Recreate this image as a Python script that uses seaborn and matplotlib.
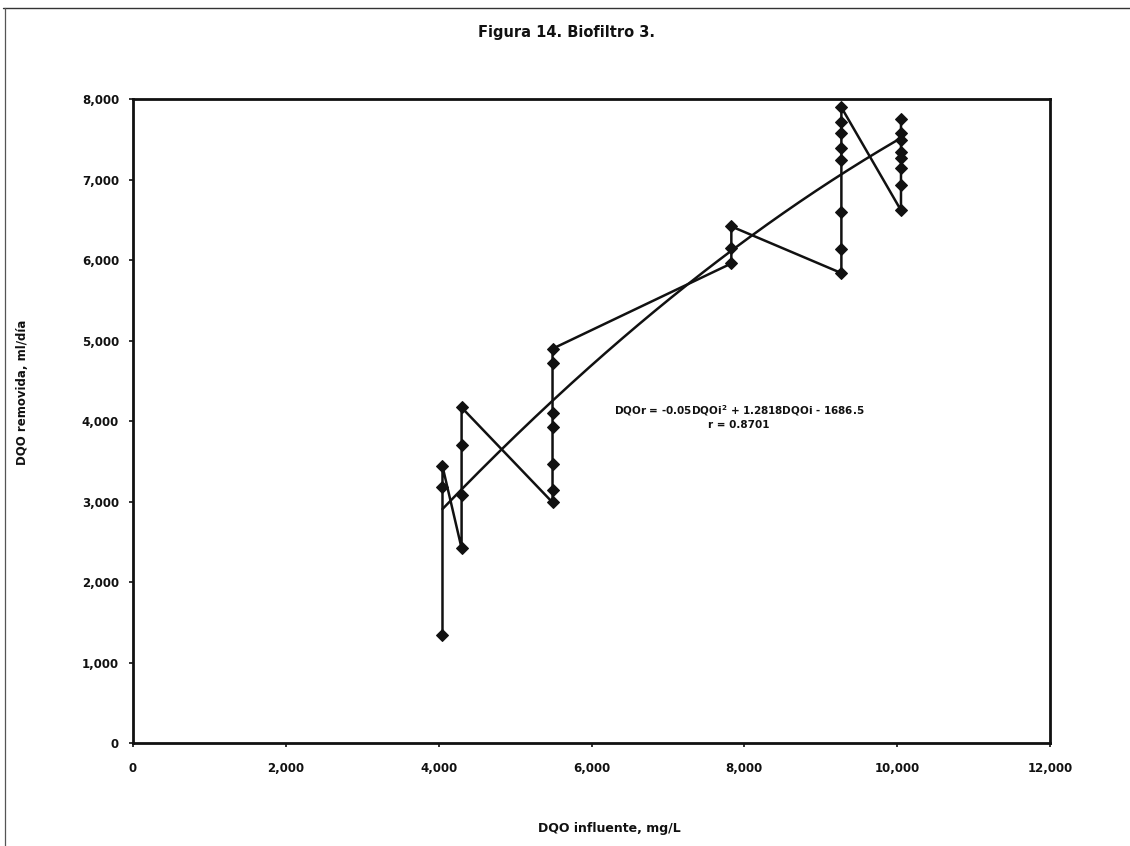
import matplotlib
matplotlib.use("Agg")
import matplotlib.pyplot as plt
from matplotlib.lines import Line2D
from matplotlib.ticker import FuncFormatter, MultipleLocator
import numpy as np
import pandas as pd
import seaborn as sns

# Influent COD (mg/L) for each run, in sampling order
dqo_influente = [
    4050, 4050, 4050,
    4300, 4300, 4300, 4300,
    5490, 5490, 5490, 5490, 5490, 5490, 5490,
    7830, 7830, 7830,
    9270, 9270, 9270, 9270, 9270, 9270, 9270, 9270,
    10050, 10050, 10050, 10050, 10050, 10050, 10050, 10050,
]
# COD removed for each run
dqo_removida = [
    1340, 3180, 3440,
    2420, 3080, 3700, 4170,
    2990, 3150, 3470, 3930, 4100, 4720, 4900,
    5960, 6150, 6420,
    5840, 6140, 6600, 7240, 7390, 7580, 7720, 7900,
    6620, 6940, 7140, 7270, 7350, 7500, 7580, 7750,
]

# Polynomial trend coefficients (x^2, x, constant)
coef_tendencia = [-3.64e-5, 1.2818, -1686.5]

titulo = "Figura 14. Biofiltro 3."
etiqueta_x = "DQO influente, mg/L"
etiqueta_y = "DQO removida, ml/día"
ecuacion = "DQOr = -0.05DQOi$^2$ + 1.2818DQOi - 1686.5\nr = 0.8701"

df = pd.DataFrame({"x": dqo_influente, "y": dqo_removida})

xt = np.linspace(min(dqo_influente), max(dqo_influente), 200)
df_tend = pd.DataFrame({"x": xt, "y": np.polyval(coef_tendencia, xt)})

sns.set_theme(style="ticks")
plt.rcParams["font.family"] = ["DejaVu Sans"]
plt.rcParams["font.weight"] = "bold"

fig = plt.figure(figsize=(11.30, 8.46), dpi=100)
ax = fig.add_axes([133 / 1130, 1 - 743 / 846, (1050 - 133) / 1130, (743 - 99.3) / 846])

# Measured series, connected in sampling order
sns.lineplot(data=df, x="x", y="y", sort=False, estimator=None, ax=ax,
             color="#111111", linewidth=1.8, marker="D", markersize=6.5,
             markeredgecolor="#111111", markerfacecolor="#111111")

# Second-order trend line
sns.lineplot(data=df_tend, x="x", y="y", ax=ax, color="#111111", linewidth=1.8)

ax.set_xlim(0, 12000)
ax.set_ylim(0, 8000)
ax.xaxis.set_major_locator(MultipleLocator(2000))
ax.yaxis.set_major_locator(MultipleLocator(1000))
fmt = FuncFormatter(lambda v, p: f"{int(v):,}")
ax.xaxis.set_major_formatter(fmt)
ax.yaxis.set_major_formatter(fmt)
ax.tick_params(axis="both", direction="out", length=3, width=1.2, color="#111111",
               labelsize=8.5, labelcolor="#111111")
ax.tick_params(axis="y", pad=7)
ax.tick_params(axis="x", pad=11)
for lab in ax.get_xticklabels() + ax.get_yticklabels():
    lab.set_fontweight("bold")

for side in ["top", "right", "bottom", "left"]:
    ax.spines[side].set_visible(True)
    ax.spines[side].set_color("#111111")
    ax.spines[side].set_linewidth(2.0)

ax.set_xlabel("")
ax.set_ylabel("")

ax.text(7930, 4060, ecuacion, ha="center", va="center", fontsize=7.5,
        fontweight="bold", color="#111111", linespacing=1.3)

fig.text(567 / 1130, 1 - 32 / 846, titulo, ha="center", va="center",
         fontsize=10.5, fontweight="bold", color="#111111")
fig.text(609 / 1130, 1 - 828 / 846, etiqueta_x, ha="center", va="center",
         fontsize=9, fontweight="bold", color="#111111")
fig.text(23 / 1130, 1 - 392 / 846, etiqueta_y, ha="center", va="center",
         rotation=90, fontsize=8.5, fontweight="bold", color="#111111")

# Outer frame (top and left edges)
fig.add_artist(Line2D([3 / 1130, 1.0], [1 - 8 / 846, 1 - 8 / 846],
                      transform=fig.transFigure, color="#333333", linewidth=1.0))
fig.add_artist(Line2D([5 / 1130, 5 / 1130], [0.0, 1 - 8 / 846],
                      transform=fig.transFigure, color="#555555", linewidth=0.9))

fig.savefig("out.png", dpi=100, facecolor="white")
